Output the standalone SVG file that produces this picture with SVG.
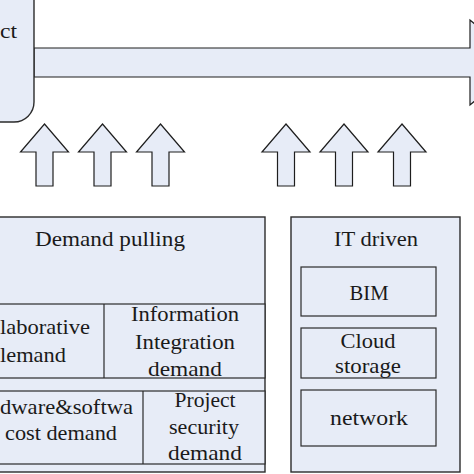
<svg xmlns="http://www.w3.org/2000/svg" xmlns:xlink="http://www.w3.org/1999/xlink" width="474" height="474" viewBox="0 0 474 474">
<style>
.box{fill:#e7ecf7;stroke:#2b2b2b;stroke-width:1.4}
.ibox{fill:#e7ecf7;stroke:#2b2b2b;stroke-width:1.2}
.arr{fill:#e7ecf7;stroke:#1e1e1e;stroke-width:1.2;stroke-linejoin:miter}
.t{font-family:"Liberation Serif","Times New Roman",serif;font-size:21px;fill:#1a1a1a;text-anchor:middle}
.ts{font-family:"Liberation Serif","Times New Roman",serif;font-size:21px;fill:#1a1a1a}
</style>
<defs>
<path id="up" d="M0,124 L24,152 L8.5,152 L8.5,186 L-8.5,186 L-8.5,152 L-24,152 Z"/>
</defs>
<rect width="474" height="474" fill="#ffffff"/>
<g id="connectors">
<path class="arr" d="M34,48 L470,48 L470,20 L520,62.5 L470,105 L470,77 L34,77 Z"/>
<use xlink:href="#up" class="arr" transform="translate(44.5,0)"/>
<use xlink:href="#up" class="arr" transform="translate(102.5,0)"/>
<use xlink:href="#up" class="arr" transform="translate(160.5,0)"/>
<use xlink:href="#up" class="arr" transform="translate(286,0)"/>
<use xlink:href="#up" class="arr" transform="translate(344,0)"/>
<use xlink:href="#up" class="arr" transform="translate(402,0)"/>
</g>
<g id="project">
<rect class="box" x="-60" y="-20" width="94" height="142" rx="20"/>
<text class="ts" x="0" y="38" textLength="17" lengthAdjust="spacingAndGlyphs">ct</text>
</g>
<g id="demand-pulling">
<rect class="box" x="-10" y="217" width="275" height="255"/>
<text class="t" x="110" y="246" textLength="150" lengthAdjust="spacingAndGlyphs">Demand pulling</text>
</g>
<g id="row1">
<rect class="ibox" x="-10" y="304" width="275" height="74"/>
<line x1="104" y1="304" x2="104" y2="378" stroke="#2b2b2b" stroke-width="1.2"/>
</g>
<g id="collaborative">
<text class="ts" x="0" y="334" textLength="90" lengthAdjust="spacingAndGlyphs">laborative</text>
<text class="ts" x="0" y="362" textLength="66" lengthAdjust="spacingAndGlyphs">lemand</text>
</g>
<g id="information">
<text class="t" x="185" y="321" textLength="108" lengthAdjust="spacingAndGlyphs">Information</text>
<text class="t" x="185" y="349" textLength="100" lengthAdjust="spacingAndGlyphs">Integration</text>
<text class="t" x="185" y="376" textLength="74" lengthAdjust="spacingAndGlyphs">demand</text>
</g>
<g id="row2">
<rect class="ibox" x="-10" y="391" width="275" height="73"/>
<line x1="143" y1="391" x2="143" y2="464" stroke="#2b2b2b" stroke-width="1.2"/>
</g>
<g id="hardware">
<text class="ts" x="0" y="414" textLength="133" lengthAdjust="spacingAndGlyphs">dware&amp;softwa</text>
<text class="t" x="61" y="440" textLength="112" lengthAdjust="spacingAndGlyphs">cost demand</text>
</g>
<g id="security">
<text class="t" x="205" y="407" textLength="61" lengthAdjust="spacingAndGlyphs">Project</text>
<text class="t" x="204" y="434" textLength="70" lengthAdjust="spacingAndGlyphs">security</text>
<text class="t" x="205" y="460" textLength="74" lengthAdjust="spacingAndGlyphs">demand</text>
</g>
<g id="it-driven">
<rect class="box" x="291" y="217" width="169" height="255"/>
<text class="t" x="376" y="246" textLength="84" lengthAdjust="spacingAndGlyphs">IT driven</text>
</g>
<g id="bim">
<rect class="ibox" x="301" y="267" width="135" height="49"/>
<text class="t" x="369" y="300" textLength="39" lengthAdjust="spacingAndGlyphs">BIM</text>
</g>
<g id="cloud">
<rect class="ibox" x="301" y="328" width="135" height="50"/>
<text class="t" x="368" y="348" textLength="55" lengthAdjust="spacingAndGlyphs">Cloud</text>
<text class="t" x="368" y="373" textLength="66" lengthAdjust="spacingAndGlyphs">storage</text>
</g>
<g id="network">
<rect class="ibox" x="301" y="390" width="135" height="56"/>
<text class="t" x="369" y="425" textLength="78" lengthAdjust="spacingAndGlyphs">network</text>
</g>
</svg>
